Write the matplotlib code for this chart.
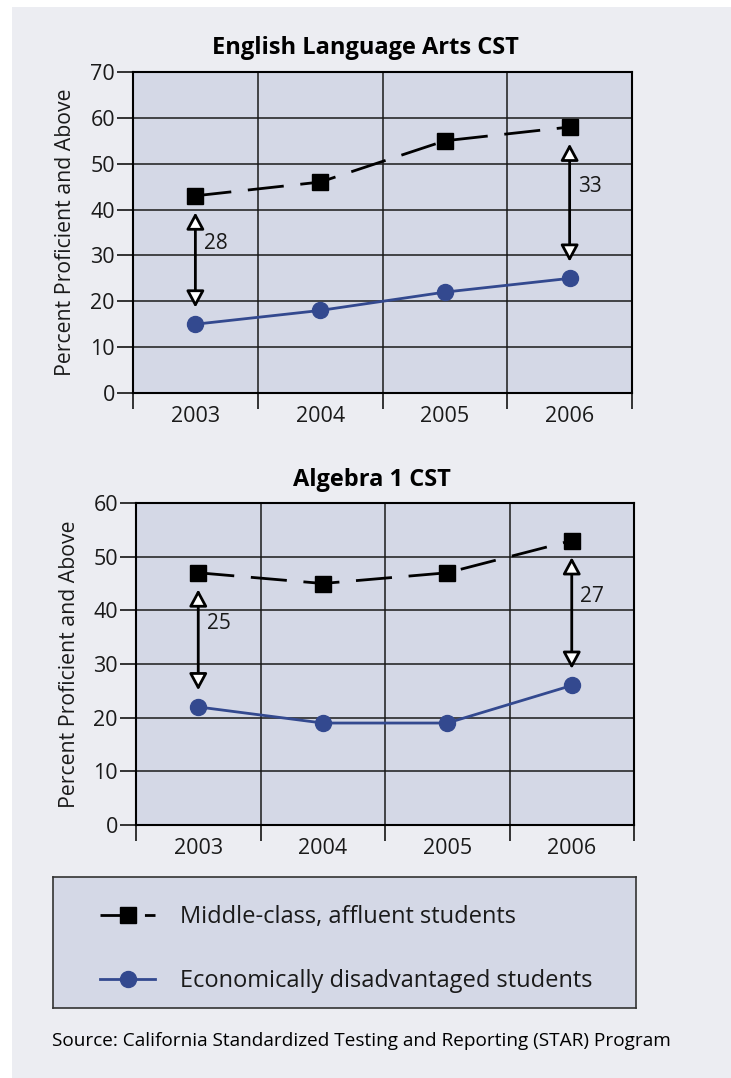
import matplotlib.pyplot as plt
from matplotlib.patches import Rectangle
from matplotlib.legend_handler import HandlerLine2D

years = ['2003', '2004', '2005', '2006']
ela_affluent = [43, 46, 55, 58]
ela_disadv = [15, 18, 22, 25]
alg_affluent = [47, 45, 47, 53]
alg_disadv = [22, 19, 19, 26]
gap_idx = [0, 3]   # years that get a gap arrow

ela_title = 'English Language Arts CST'
alg_title = 'Algebra 1 CST'
label_affluent = 'Middle-class, affluent students'
label_disadv = 'Economically disadvantaged students'
source = 'Source: California Standardized Testing and Reporting (STAR) Program'

PLOT_BG = '#d4d8e6'
FIG_BG = '#ecedf2'
BLUE = '#33498f'
INK = '#1a1a1a'

plt.rcParams['font.family'] = ['Open Sans', 'DejaVu Sans']

W, H = 731, 1078
fig = plt.figure(figsize=(W / 100, H / 100), dpi=100, facecolor='white')
fig.patches.append(Rectangle((12 / W, 0), 1, 1 - 7 / H, transform=fig.transFigure,
                             facecolor=FIG_BG, edgecolor='none', zorder=-10))


def drawPanel(ax, hi, lo, ymax):
    x = list(range(len(years)))
    ax.set_facecolor(PLOT_BG)
    l1, = ax.plot(x, hi, color='black', lw=2, ls=(0, (13, 6)), marker='s', ms=11.5,
                  label=label_affluent, zorder=4)
    l2, = ax.plot(x, lo, color=BLUE, lw=2, marker='o', ms=11.5,
                  label=label_disadv, zorder=4)
    for i in gap_idx:
        ax.annotate('', xy=(i, hi[i]), xytext=(i, lo[i]),
                    arrowprops=dict(arrowstyle='<|-|>,head_length=0.5,head_width=0.27',
                                    mutation_scale=20, fc='white', ec='black', lw=2,
                                    shrinkA=12, shrinkB=12), zorder=5)
        ax.annotate(str(hi[i] - lo[i]), xy=(i, (hi[i] + lo[i]) / 2), xytext=(6, 12),
                    textcoords='offset points', ha='left', va='center',
                    fontsize=15, color=INK)
    ax.set_xlim(-0.5, len(years) - 0.5)
    ax.set_ylim(0, ymax)
    ax.set_xticks([i - 0.5 for i in range(len(years) + 1)])
    ax.set_xticklabels([])
    ax.set_xticks(x, minor=True)
    ax.set_xticklabels(years, minor=True)
    ax.set_yticks(range(0, ymax + 1, 10))
    ax.tick_params(axis='x', which='major', length=11.5, width=1.1, color='black')
    ax.tick_params(axis='x', which='minor', length=0, pad=9, labelsize=15.5, labelcolor=INK)
    ax.tick_params(axis='y', length=11.5, width=1.1, pad=1.5, labelsize=15.5, labelcolor=INK)
    ax.grid(True, which='major', color=INK, lw=1.1)
    for s in ax.spines.values():
        s.set_linewidth(1.5)
        s.set_color('black')
    ax.set_ylabel('Percent Proficient and Above', fontsize=15.3, color=INK, va='center')
    return l1, l2


def legendDash(handle, orig):
    handle.update_from(orig)
    if orig.get_color() == 'black':
        handle.set_linestyle((0, (13, 3)))


ax1 = fig.add_axes([133 / W, 1 - 393 / H, 499 / W, 321 / H])
drawPanel(ax1, ela_affluent, ela_disadv, 70)
ax1.yaxis.set_label_coords((66 - 133) / 499, 0.5)
fig.text(365 / W, 1 - 48 / H, ela_title, ha='center', va='center',
         fontsize=17, weight='bold', color='black')

ax2 = fig.add_axes([136 / W, 1 - 825 / H, 498 / W, 322 / H])
h1, h2 = drawPanel(ax2, alg_affluent, alg_disadv, 60)
ax2.yaxis.set_label_coords((70 - 136) / 498, 0.5)
fig.text(372 / W, 1 - 480 / H, alg_title, ha='center', va='center',
         fontsize=17, weight='bold', color='black')

# legend box
axl = fig.add_axes([53 / W, 1 - 1008 / H, 583 / W, 131 / H])
axl.set_facecolor(PLOT_BG)
axl.set_xticks([])
axl.set_yticks([])
for s in axl.spines.values():
    s.set_linewidth(1.2)
    s.set_color('#333333')
axl.legend([h1, h2], [label_affluent, label_disadv], loc='center left',
           bbox_to_anchor=(47 / 583, 0.45), frameon=False, fontsize=17,
           handlelength=2.35, handletextpad=1.05, labelspacing=1.7,
           borderaxespad=0, borderpad=0, labelcolor=INK,
           handler_map={h1: HandlerLine2D(update_func=legendDash)})

fig.text(52 / W, 1 - 1041 / H, source, ha='left', va='center', fontsize=13.7, color='black')

fig.savefig('out.png', dpi=100, facecolor=fig.get_facecolor())
